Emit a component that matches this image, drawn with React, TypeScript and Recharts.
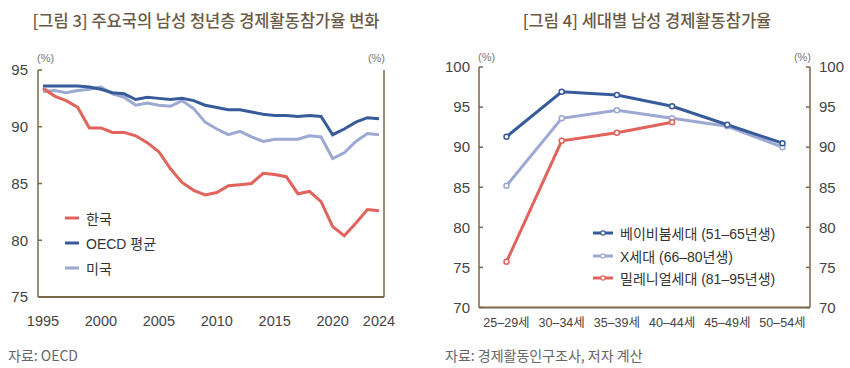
import { LineChart, Line, XAxis, YAxis, Legend } from "recharts"

// 그림 3: 연도별 남성 청년층 경제활동참가율 (%)
const years = [
  1995, 1996, 1997, 1998, 1999, 2000, 2001, 2002, 2003, 2004,
  2005, 2006, 2007, 2008, 2009, 2010, 2011, 2012, 2013, 2014,
  2015, 2016, 2017, 2018, 2019, 2020, 2021, 2022, 2023, 2024,
]
const korea = [
  93.4, 92.7, 92.3, 91.7, 89.9, 89.9, 89.5, 89.5, 89.2, 88.6,
  87.8, 86.3, 85.1, 84.4, 84.0, 84.2, 84.8, 84.9, 85.0, 85.9,
  85.8, 85.6, 84.1, 84.3, 83.4, 81.2, 80.4, 81.5, 82.7, 82.6,
]
const oecd = [
  93.6, 93.6, 93.6, 93.6, 93.5, 93.3, 93.0, 92.9, 92.4, 92.6,
  92.5, 92.4, 92.5, 92.3, 91.9, 91.7, 91.5, 91.5, 91.3, 91.1,
  91.0, 91.0, 90.9, 91.0, 90.9, 89.3, 89.8, 90.4, 90.8, 90.7,
]
const usa = [
  93.1, 93.2, 93.0, 93.2, 93.3, 93.5, 92.9, 92.6, 91.9, 92.1,
  91.9, 91.8, 92.3, 91.6, 90.4, 89.8, 89.3, 89.6, 89.1, 88.7,
  88.9, 88.9, 88.9, 89.2, 89.1, 87.2, 87.7, 88.7, 89.4, 89.3,
]
const yearTicks = [1995, 2000, 2005, 2010, 2015, 2020, 2024]
const trendTicks = [75, 80, 85, 90, 95]
const trendNames = ["한국", "OECD 평균", "미국"]

// 그림 4: 세대별 연령대 경제활동참가율 (%)
const ageGroups = ["25–29세", "30–34세", "35–39세", "40–44세", "45–49세", "50–54세"]
const babyBoomers = [91.3, 96.9, 96.5, 95.1, 92.8, 90.5]
const genX = [85.2, 93.6, 94.6, 93.6, 92.6, 90.0]
const millennials = [75.7, 90.8, 91.8, 93.1, null, null]
const cohortTicks = [70, 75, 80, 85, 90, 95, 100]
const cohortNames = ["베이비붐세대 (51–65년생)", "X세대 (66–80년생)", "밀레니얼세대 (81–95년생)"]

const RED = "#e2625c"
const NAVY = "#375b9a"
const LAVENDER = "#9ba9d3"
const AXIS = "#7b6749"
const NUM_FONT = "'Liberation Sans', Arial, 'Noto Sans CJK KR', sans-serif"
const KR_FONT = "'Noto Sans CJK KR', 'Liberation Sans', sans-serif"

const trendData = years.map((year, i) => ({
  year,
  korea: korea[i],
  oecd: oecd[i],
  usa: usa[i],
}))

const cohortData = ageGroups.map((age, i) => ({
  age,
  boomer: babyBoomers[i],
  genX: genX[i],
  millennial: millennials[i],
}))

const tickStyle = { fontSize: 15, fill: "#444", fontFamily: NUM_FONT }

const unitLabel = (side: "left" | "right", dy: number) => (props: any) => {
  const { x, y, width } = props.viewBox
  return (
    <text
      x={side === "left" ? x + width - 1 : x + 1}
      y={y - dy}
      textAnchor={side === "left" ? "start" : "end"}
      fontSize={11}
      fill="#777"
      fontFamily={NUM_FONT}
    >
      (%)
    </text>
  )
}

const ordered = (payload: any[] | undefined, names: string[]) =>
  [...(payload || [])].sort((a, b) => names.indexOf(a.value) - names.indexOf(b.value))

const TrendLegend = ({ payload }: any) => (
  <div style={{ fontFamily: NUM_FONT, fontSize: 14, color: "#333" }}>
    {ordered(payload, trendNames).map((entry: any) => (
      <div key={entry.value} style={{ display: "flex", alignItems: "center", height: 25 }}>
        <svg width={14} height={4}>
          <line x1={0} y1={2} x2={14} y2={2} stroke={entry.color} strokeWidth={3} />
        </svg>
        <span style={{ marginLeft: 7 }}>{entry.value}</span>
      </div>
    ))}
  </div>
)

const CohortLegend = ({ payload }: any) => (
  <div style={{ fontFamily: NUM_FONT, fontSize: 14, color: "#333" }}>
    {ordered(payload, cohortNames).map((entry: any) => (
      <div key={entry.value} style={{ display: "flex", alignItems: "center", height: 22.5 }}>
        <svg width={20} height={6}>
          <line x1={0} y1={3} x2={20} y2={3} stroke={entry.color} strokeWidth={3} />
          <circle cx={10} cy={3} r={2.2} fill="#fff" stroke={entry.color} strokeWidth={1.2} />
        </svg>
        <span style={{ marginLeft: 7 }}>{entry.value}</span>
      </div>
    ))}
  </div>
)

const titleStyle = {
  position: "absolute" as const,
  top: 8,
  fontFamily: KR_FONT,
  fontSize: 16.5,
  fontWeight: 500,
  color: "#6b5a46",
  whiteSpace: "nowrap" as const,
  transform: "translateX(-50%)",
}

const footStyle = {
  position: "absolute" as const,
  top: 345,
  fontFamily: KR_FONT,
  fontSize: 14,
  color: "#666",
  whiteSpace: "nowrap" as const,
}

export default function App() {
  const dot = (color: string) => ({ r: 2.5, fill: "#fff", stroke: color, strokeWidth: 1.5 })
  return (
    <div style={{ position: "absolute", left: 0, top: 0, width: 850, height: 368, background: "#fff" }}>
      <div style={{ ...titleStyle, left: 206 }}>[그림 3] 주요국의 남성 청년층 경제활동참가율 변화</div>
      <div style={{ ...titleStyle, left: 647 }}>[그림 4] 세대별 남성 경제활동참가율</div>

      <div style={{ position: "absolute", left: 0, top: 0 }}>
        <LineChart width={425} height={368} data={trendData} margin={{ top: 70, right: 0, bottom: 41, left: 0 }}>
          <XAxis
            dataKey="year"
            type="number"
            domain={[1995, 2024]}
            ticks={yearTicks}
            padding={{ left: 5, right: 5 }}
            height={30}
            tickLine={false}
            tickSize={0}
            tickMargin={19}
            axisLine={{ stroke: AXIS, strokeWidth: 2 }}
            tick={{ ...tickStyle, fontSize: 14.5 }}
          />
          <YAxis
            yAxisId="l"
            domain={[75, 95]}
            ticks={trendTicks}
            interval={0}
            width={38}
            tickSize={-4}
            tickMargin={14}
            axisLine={{ stroke: AXIS, strokeWidth: 1.5 }}
            tickLine={{ stroke: AXIS, strokeWidth: 1.5 }}
            tick={tickStyle}
            label={unitLabel("left", 8)}
          />
          <YAxis
            yAxisId="r"
            orientation="right"
            domain={[75, 95]}
            ticks={trendTicks}
            interval={0}
            width={41}
            tickSize={-4}
            tickMargin={13}
            axisLine={{ stroke: AXIS, strokeWidth: 1.5 }}
            tickLine={{ stroke: AXIS, strokeWidth: 1.5 }}
            tick={tickStyle}
            label={unitLabel("right", 8)}
          />
          <Legend
            layout="horizontal"
            verticalAlign="middle"
            align="center"
            content={<TrendLegend />}
            wrapperStyle={{ left: 65, top: 205, width: 120 }}
          />
          <Line yAxisId="l" name="미국" dataKey="usa" stroke={LAVENDER} strokeWidth={3} dot={false} isAnimationActive={false} />
          <Line yAxisId="l" name="OECD 평균" dataKey="oecd" stroke={NAVY} strokeWidth={3} dot={false} isAnimationActive={false} />
          <Line yAxisId="l" name="한국" dataKey="korea" stroke={RED} strokeWidth={3} dot={false} isAnimationActive={false} />
        </LineChart>
      </div>

      <div style={{ position: "absolute", left: 425, top: 0 }}>
        <LineChart width={425} height={368} data={cohortData} margin={{ top: 67, right: 0, bottom: 30.5, left: 0 }}>
          <XAxis
            dataKey="age"
            height={30}
            padding={{ left: 27.5, right: 27.5 }}
            tickLine={false}
            tickSize={0}
            tickMargin={11}
            axisLine={{ stroke: AXIS, strokeWidth: 2 }}
            tick={{ ...tickStyle, fontSize: 12.5 }}
            interval={0}
          />
          <YAxis
            yAxisId="l"
            domain={[70, 100]}
            ticks={cohortTicks}
            interval={0}
            width={54}
            tickSize={-4}
            tickMargin={13}
            axisLine={{ stroke: AXIS, strokeWidth: 1.5 }}
            tickLine={{ stroke: AXIS, strokeWidth: 1.5 }}
            tick={tickStyle}
            label={unitLabel("left", 6)}
          />
          <YAxis
            yAxisId="r"
            orientation="right"
            domain={[70, 100]}
            ticks={cohortTicks}
            interval={0}
            width={40}
            tickSize={-4}
            tickMargin={13}
            axisLine={{ stroke: AXIS, strokeWidth: 1.5 }}
            tickLine={{ stroke: AXIS, strokeWidth: 1.5 }}
            tick={tickStyle}
            label={unitLabel("right", 6)}
          />
          <Legend
            layout="horizontal"
            verticalAlign="middle"
            align="center"
            content={<CohortLegend />}
            wrapperStyle={{ left: 168, top: 222, width: 220 }}
          />
          <Line yAxisId="r" name="X세대 (66–80년생)" dataKey="genX" stroke={LAVENDER} strokeWidth={3} dot={dot(LAVENDER)} isAnimationActive={false} />
          <Line yAxisId="l" name="베이비붐세대 (51–65년생)" dataKey="boomer" stroke={NAVY} strokeWidth={3} dot={dot(NAVY)} isAnimationActive={false} />
          <Line yAxisId="l" name="밀레니얼세대 (81–95년생)" dataKey="millennial" stroke={RED} strokeWidth={3} dot={dot(RED)} isAnimationActive={false} />
        </LineChart>
      </div>

      <div style={{ ...footStyle, left: 8 }}>자료: OECD</div>
      <div style={{ ...footStyle, left: 445 }}>자료: 경제활동인구조사, 저자 계산</div>
    </div>
  )
}
